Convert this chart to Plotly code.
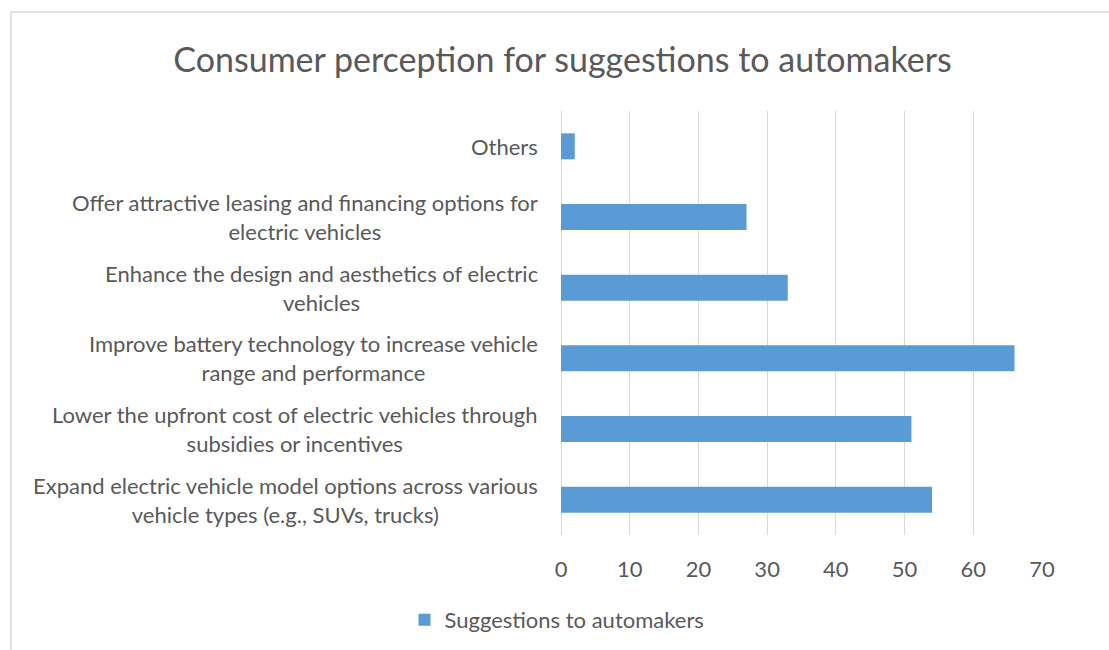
import plotly.graph_objects as go

categories = [
    "Expand electric vehicle model options across various<br>vehicle types (e.g., SUVs, trucks)",
    "Lower the upfront cost of electric vehicles through<br>subsidies or incentives",
    "Improve battery technology to increase vehicle<br>range and performance",
    "Enhance the design and aesthetics of electric<br>vehicles",
    "Offer attractive leasing and financing options for<br>electric vehicles",
    "Others",
]
values = [54, 51, 66, 33, 27, 2]
series_name = "Suggestions to automakers"
title_text = "Consumer perception for suggestions to automakers"
x_ticks = [0, 10, 20, 30, 40, 50, 60, 70]

FONT = "Lato, Calibri, Carlito, 'Open Sans', sans-serif"
TXT = "#595959"
GRID = "#D9D9D9"
BAR = "#5B9BD5"

W, H = 1109, 650
L, R, T, B = 561, 67, 111, 115
pw = W - L - R

fig = go.Figure()
fig.add_trace(go.Bar(
    y=categories, x=values, orientation="h", name=series_name,
    marker=dict(color=BAR, line=dict(width=0)),
    showlegend=True,
))

for c in categories:
    fig.add_annotation(
        x=(540 - L) / pw, xref="paper", y=c, yref="y",
        text=c, showarrow=False, xanchor="right", yanchor="middle",
        align="center", font=dict(family=FONT, size=22, color=TXT),
    )

# chart-area border (top and left visible)
fig.add_shape(type="line", xref="paper", yref="paper",
              x0=(11 - L) / pw, x1=(W + 5 - L) / pw,
              y0=1 + (T - 12) / (H - T - B), y1=1 + (T - 12) / (H - T - B),
              line=dict(color=GRID, width=1.5))
fig.add_shape(type="line", xref="paper", yref="paper",
              x0=(11 - L) / pw, x1=(11 - L) / pw,
              y0=1 + (T - 12) / (H - T - B), y1=-(B + 5) / (H - T - B),
              line=dict(color=GRID, width=1.5))

fig.update_layout(
    width=W, height=H,
    margin=dict(l=L, r=R, t=T, b=B, pad=0),
    paper_bgcolor="white", plot_bgcolor="white",
    bargap=0.632,
    title=dict(text=title_text, x=562.5 / W, xanchor="center", xref="container",
               y=1 - 60 / H, yanchor="middle", yref="container",
               font=dict(family=FONT, size=34, color=TXT)),
    xaxis=dict(range=[0, 70], tickvals=x_ticks, showgrid=True, gridcolor=GRID,
               gridwidth=1.3, zeroline=True, zerolinecolor=GRID, zerolinewidth=1.3,
               showline=False, ticks="", ticklabelstandoff=19,
               tickfont=dict(family=FONT, size=22, color=TXT), automargin=False,
               fixedrange=True),
    yaxis=dict(showticklabels=False, showgrid=False, zeroline=False, showline=False,
               automargin=False, fixedrange=True),
    legend=dict(orientation="h", xref="container", yref="container",
                x=557 / W, xanchor="center", y=1 - 620 / H, yanchor="middle",
                font=dict(family=FONT, size=22, color=TXT)),
    showlegend=True,
)

fig.write_html("out.html")
